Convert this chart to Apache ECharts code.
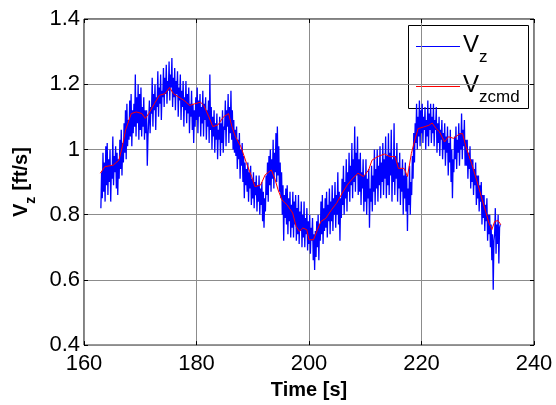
<!DOCTYPE html>
<html>
<head>
<meta charset="utf-8">
<script src="https://cdn.jsdelivr.net/npm/echarts@6/dist/echarts.min.js"></script>
<style>
  html, body { margin: 0; padding: 0; background: #fff; }
  #chart { width: 556px; height: 405px; }
</style>
</head>
<body>
<div id="chart"></div>
<script>
// measured Vz, one row per second, sampled every 0.125 s starting at 163 s
const vzStart = 163;
const vzStep = 0.125;
const vz = [
  0.82, 0.93, 0.85, 0.99, 0.87, 0.96, 0.84, 1.01,
  0.89, 1.02, 0.86, 0.97, 0.90, 1.00, 0.84, 0.95,
  0.91, 1.04, 0.89, 0.98, 0.93, 1.01, 0.88, 0.99,
  0.86, 0.97, 0.91, 1.03, 0.94, 1.06, 0.92, 1.02,
  0.96, 1.08, 0.99, 1.12, 0.97, 1.14, 1.01, 1.09,
  1.03, 1.15, 1.04, 1.17, 1.01, 1.12, 1.05, 1.14,
  1.07, 1.23, 1.04, 1.16, 1.08, 1.20, 1.03, 1.17,
  1.06, 1.19, 1.04, 1.13, 1.07, 1.16, 1.03, 1.12,
  1.05, 1.12, 0.95, 1.04, 1.09, 1.15, 1.05, 1.13,
  1.11, 1.22, 1.07, 1.17, 1.12, 1.20, 1.06, 1.16,
  1.13, 1.24, 1.10, 1.19, 1.14, 1.23, 1.09, 1.18,
  1.16, 1.25, 1.13, 1.22, 1.17, 1.26, 1.14, 1.21,
  1.18, 1.27, 1.15, 1.23, 1.19, 1.28, 1.13, 1.22,
  1.16, 1.25, 1.12, 1.21, 1.17, 1.24, 1.10, 1.19,
  1.15, 1.23, 1.09, 1.18, 1.13, 1.21, 1.07, 1.16,
  1.12, 1.21, 1.08, 1.17, 1.11, 1.19, 1.05, 1.14,
  1.10, 1.18, 1.06, 1.14, 1.02, 1.12, 1.07, 1.16,
  1.09, 1.19, 1.05, 1.15, 1.10, 1.17, 1.04, 1.13,
  1.08, 1.18, 1.04, 1.14, 1.09, 1.16, 1.03, 1.12,
  1.07, 1.15, 1.02, 1.23, 1.06, 1.13, 1.00, 1.10,
  1.04, 1.12, 0.99, 1.08, 1.03, 1.11, 0.97, 1.06,
  1.03, 1.10, 0.98, 1.08, 1.02, 1.12, 0.99, 1.07,
  1.06, 1.15, 1.01, 1.12, 1.07, 1.17, 1.02, 1.13,
  1.05, 1.18, 1.03, 1.12, 1.00, 1.09, 0.99, 1.06,
  0.98, 1.07, 0.94, 1.03, 0.97, 1.05, 0.91, 1.00,
  0.95, 1.02, 0.90, 0.98, 0.85, 0.96, 0.89, 0.94,
  0.87, 0.96, 0.84, 0.93, 0.88, 0.95, 0.83, 0.91,
  0.85, 0.93, 0.82, 0.90, 0.86, 0.92, 0.81, 0.89,
  0.84, 0.92, 0.80, 0.88, 0.83, 0.90, 0.78, 0.87,
  0.76, 0.85, 0.81, 0.92, 0.86, 0.96, 0.84, 0.98,
  0.89, 1.00, 0.87, 0.97, 0.91, 1.03, 0.88, 0.99,
  0.93, 1.05, 0.90, 1.07, 0.92, 1.01, 0.87, 0.96,
  0.85, 0.93, 0.80, 0.89, 0.72, 0.86, 0.79, 0.88,
  0.77, 0.89, 0.74, 0.85, 0.78, 0.87, 0.73, 0.83,
  0.76, 0.87, 0.73, 0.84, 0.77, 0.86, 0.72, 0.82,
  0.74, 0.86, 0.71, 0.81, 0.75, 0.84, 0.70, 0.80,
  0.73, 0.84, 0.70, 0.79, 0.74, 0.82, 0.69, 0.78,
  0.71, 0.80, 0.68, 0.76, 0.72, 0.79, 0.66, 0.74,
  0.63, 0.75, 0.67, 0.78, 0.70, 0.80, 0.66, 0.77,
  0.72, 0.84, 0.74, 0.86, 0.71, 0.82, 0.75, 0.85,
  0.76, 0.87, 0.73, 0.83, 0.78, 0.88, 0.74, 0.84,
  0.78, 0.89, 0.75, 0.85, 0.80, 0.90, 0.76, 0.86,
  0.80, 0.93, 0.77, 0.87, 0.72, 0.85, 0.79, 0.91,
  0.83, 0.95, 0.80, 0.90, 0.85, 0.97, 0.81, 0.93,
  0.87, 0.99, 0.84, 0.95, 0.89, 1.02, 0.85, 0.97,
  0.90, 1.07, 0.87, 0.99, 0.92, 1.04, 0.86, 0.97,
  0.87, 0.99, 0.83, 0.93, 0.88, 0.97, 0.81, 0.92,
  0.84, 0.97, 0.80, 0.91, 0.85, 0.94, 0.76, 0.88,
  0.84, 0.95, 0.81, 0.92, 0.87, 1.00, 0.83, 0.94,
  0.88, 1.00, 0.84, 0.95, 0.89, 1.01, 0.85, 0.96,
  0.90, 1.02, 0.86, 0.97, 0.91, 1.04, 0.85, 0.98,
  0.89, 1.05, 0.86, 0.99, 0.92, 1.06, 0.84, 0.97,
  0.90, 1.08, 0.86, 0.98, 0.91, 1.02, 0.84, 0.96,
  0.88, 0.99, 0.83, 0.94, 0.87, 0.97, 0.80, 0.92,
  0.85, 0.96, 0.81, 0.92, 0.75, 0.88, 0.83, 0.95,
  0.80, 0.90, 0.86, 0.98, 0.91, 1.05, 0.96, 1.08,
  1.02, 1.14, 1.00, 1.10, 1.04, 1.15, 1.01, 1.12,
  1.05, 1.14, 1.02, 1.10, 1.06, 1.13, 1.00, 1.09,
  1.04, 1.15, 1.01, 1.11, 1.06, 1.14, 1.02, 1.10,
  1.05, 1.14, 1.01, 1.09, 1.06, 1.13, 0.99, 1.08,
  1.02, 1.10, 0.98, 1.06, 1.03, 1.09, 0.97, 1.05,
  1.00, 1.08, 0.95, 1.04, 0.99, 1.07, 0.92, 1.02,
  0.96, 1.06, 0.90, 1.00, 0.85, 0.97, 0.93, 1.04,
  0.97, 1.07, 0.94, 1.03, 0.99, 1.08, 0.95, 1.05,
  1.00, 1.11, 0.97, 1.06, 1.01, 1.09, 0.95, 1.03,
  0.95, 1.03, 0.91, 0.99, 0.94, 1.01, 0.88, 0.97,
  0.90, 0.97, 0.86, 0.94, 0.89, 0.96, 0.83, 0.92,
  0.85, 0.92, 0.81, 0.89, 0.84, 0.90, 0.77, 0.86,
  0.79, 0.86, 0.75, 0.83, 0.78, 0.85, 0.72, 0.80,
  0.74, 0.80, 0.70, 0.77, 0.66, 0.74, 0.57, 0.72,
  0.74, 0.82, 0.68, 0.77, 0.71, 0.80, 0.65, 0.76,
  0.77
];

// commanded Vz
const cmdTime = [
  162.9, 163.7, 165.2, 166.2, 166.8, 167.4, 168.4, 169.3, 170.3, 170.9,
  171.5, 172.5, 173.4, 174.4, 175.2, 175.9, 176.9, 177.8, 178.8, 179.7,
  180.7, 181.3, 182.2, 182.9, 183.8, 184.8, 185.7, 186.3, 186.9, 187.9,
  188.9, 189.8, 190.4, 191.4, 192.2, 193.3, 193.9, 194.5, 195.2, 196.1,
  197.1, 197.7, 198.3, 198.9, 199.6, 200.0, 200.8, 201.5, 202.1, 203.0,
  204.0, 204.9, 205.9, 206.8, 207.8, 208.7, 209.7, 210.6, 211.2, 212.2,
  213.4, 214.4, 215.3, 215.9, 216.9, 217.5, 218.2, 218.8, 219.4, 220.4,
  221.3, 221.9, 222.6, 223.2, 224.1, 224.8, 225.7, 226.7, 227.3, 227.9,
  228.9, 229.8, 230.8, 231.4, 232.0, 232.5, 233.0, 233.6, 234.1
];
const cmdValue = [
  0.927, 0.947, 0.952, 0.967, 1.008, 1.060, 1.110, 1.115, 1.110, 1.095,
  1.110, 1.140, 1.166, 1.171, 1.190, 1.171, 1.160, 1.150, 1.135, 1.140,
  1.145, 1.135, 1.100, 1.070, 1.075, 1.100, 1.110, 1.070, 1.040, 1.008,
  0.957, 0.917, 0.886, 0.891, 0.922, 0.937, 0.912, 0.876, 0.845, 0.830,
  0.805, 0.764, 0.749, 0.759, 0.754, 0.723, 0.723, 0.754, 0.779, 0.789,
  0.815, 0.835, 0.866, 0.891, 0.912, 0.927, 0.917, 0.937, 0.967, 0.978,
  0.986, 0.978, 0.978, 0.942, 0.942, 0.917, 0.988, 1.028, 1.064, 1.069,
  1.074, 1.081, 1.064, 1.054, 1.023, 1.039, 1.034, 1.047, 1.049, 1.008,
  0.957, 0.906, 0.845, 0.810, 0.774, 0.754, 0.779, 0.782, 0.769
];

const seriesNames = ['Vz', 'Vzcmd'];
const seriesColors = ['#0000ff', '#ff0000'];

const font = '"Liberation Sans", Arial, sans-serif';
const chart = echarts.init(document.getElementById('chart'));

// top and right edges only carry inward ticks
const hiddenAxis = {
  axisLabel: { show: false },
  axisLine: { show: false },
  splitLine: { show: false },
  axisTick: { inside: true, length: 4, lineStyle: { color: '#000' } }
};

// text with a subscript, drawn as two pieces (baseline-based placement)
function subText(x, base, main, sub, size, subSize, weight, subDrop, mainWidth) {
  return [
    { type: 'text', x: x, y: base - 0.33 * size,
      style: { text: main, fontSize: size, fontWeight: weight, fontFamily: font, fill: '#000', verticalAlign: 'middle', align: 'left' } },
    { type: 'text', x: x + mainWidth, y: base + subDrop - 0.33 * subSize,
      style: { text: sub, fontSize: subSize, fontWeight: weight, fontFamily: font, fill: '#000', verticalAlign: 'middle', align: 'left' } }
  ];
}

// legend box in the MATLAB style
const legendBox = {
  type: 'group', z: 100,
  children: [
    { type: 'rect', shape: { x: 408.5, y: 25.5, width: 120, height: 83 },
      style: { fill: '#fff', stroke: '#000', lineWidth: 1 } },
    { type: 'line', shape: { x1: 416, y1: 46.5, x2: 460, y2: 46.5 }, style: { stroke: seriesColors[0], lineWidth: 1 } },
    { type: 'line', shape: { x1: 416, y1: 86.5, x2: 460, y2: 86.5 }, style: { stroke: seriesColors[1], lineWidth: 1 } }
  ]
    .concat(subText(463, 53.5, 'V', seriesNames[0].slice(1), 24, 17, 'normal', 9.5, 16))
    .concat(subText(463, 93.5, 'V', seriesNames[1].slice(1), 24, 17, 'normal', 9.5, 16))
};

// rotated y-axis title: V_z [ft/s]
const yTitle = {
  type: 'group', x: 28, y: 217, rotation: Math.PI / 2,
  children: [
    { type: 'text', x: 0, y: -6.6,
      style: { text: 'V', fontSize: 20, fontWeight: 'bold', fontFamily: font, fill: '#000', verticalAlign: 'middle', align: 'left' } },
    { type: 'text', x: 13.3, y: 8 - 0.33 * 14,
      style: { text: 'z', fontSize: 14, fontWeight: 'bold', fontFamily: font, fill: '#000', verticalAlign: 'middle', align: 'left' } },
    { type: 'text', x: 21, y: -6.6,
      style: { text: ' [ft/s]', fontSize: 20, fontWeight: 'bold', fontFamily: font, fill: '#000', verticalAlign: 'middle', align: 'left' } }
  ]
};

chart.setOption({
  animation: false,
  backgroundColor: '#fff',
  grid: {
    left: 84, right: 22, top: 19, bottom: 59,
    show: true, borderColor: '#000', borderWidth: 1
  },
  graphic: [legendBox, yTitle],
  xAxis: [{
    type: 'value',
    min: 160, max: 240, interval: 20,
    name: 'Time [s]',
    nameLocation: 'middle',
    nameGap: 30,
    nameTextStyle: { fontSize: 20, fontWeight: 'bold', color: '#000', fontFamily: font },
    axisLine: { show: false },
    axisTick: { inside: true, length: 4, lineStyle: { color: '#000' } },
    axisLabel: { fontSize: 22, color: '#000', fontFamily: font, margin: 8 },
    splitLine: { show: true, lineStyle: { color: '#8c8c8c', width: 1 } }
  }, Object.assign({ type: 'value', position: 'top', min: 160, max: 240, interval: 20 }, hiddenAxis)],
  yAxis: [{
    type: 'value',
    min: 0.4, max: 1.4, interval: 0.2,
    axisLine: { show: false },
    axisTick: { inside: true, length: 4, lineStyle: { color: '#000' } },
    axisLabel: {
      fontSize: 22, color: '#000', fontFamily: font, margin: 4,
      formatter: (v) => String(+v.toFixed(1))
    },
    splitLine: { show: true, lineStyle: { color: '#8c8c8c', width: 1 } }
  }, Object.assign({ type: 'value', position: 'right', min: 0.4, max: 1.4, interval: 0.2 }, hiddenAxis)],
  series: [
    {
      name: seriesNames[0],
      type: 'line',
      symbol: 'none',
      data: vz.map((v, i) => [vzStart + i * vzStep, v]),
      lineStyle: { color: seriesColors[0], width: 1.3 }
    },
    {
      name: seriesNames[1],
      type: 'line',
      symbol: 'none',
      data: cmdTime.map((t, i) => [t, cmdValue[i]]),
      lineStyle: { color: seriesColors[1], width: 1 }
    }
  ]
});
</script>
</body>
</html>
